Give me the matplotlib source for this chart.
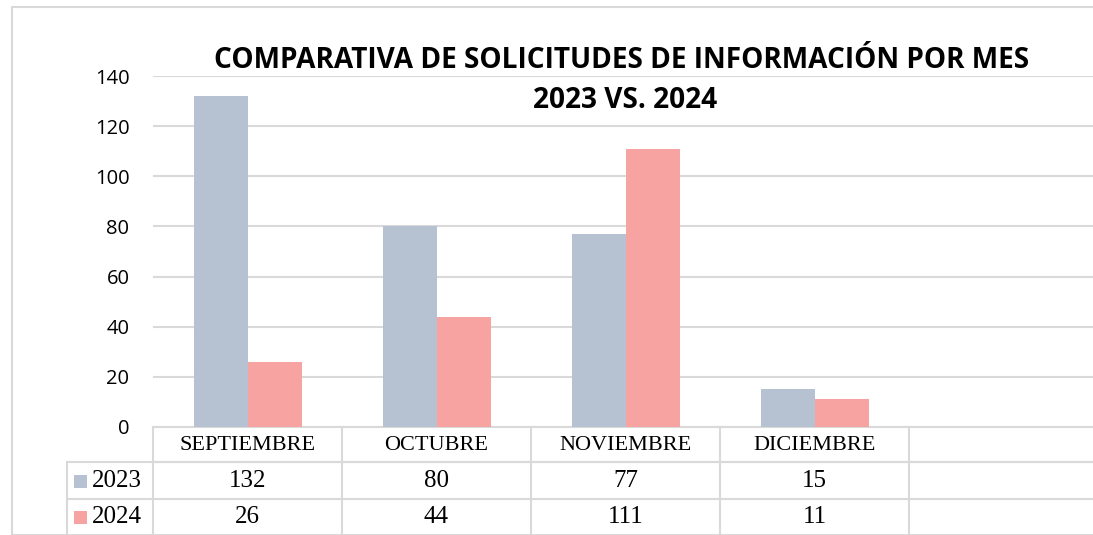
import numpy as np
import matplotlib.pyplot as plt
from matplotlib.patches import Rectangle

meses = ["SEPTIEMBRE", "OCTUBRE", "NOVIEMBRE", "DICIEMBRE"]
serie_2023 = [132, 80, 77, 15]
serie_2024 = [26, 44, 111, 11]
series = ["2023", "2024"]
colores = ["#B6C2D1", "#F7A3A2"]
gris = "#D9D9D9"

W, H = 1093, 535
fig = plt.figure(figsize=(W / 100, H / 100), dpi=100)

# marco exterior
fig.patches.append(Rectangle((12 / W, 0), 1.2, (H - 7) / H, transform=fig.transFigure,
                             fill=False, edgecolor=gris, linewidth=1.5))

# area de grafico: 5 categorias (la ultima vacia), cada una de 189 px
ancho_cat = 189
x0 = 153
ax = fig.add_axes([x0 / W, (H - 427) / H, 5 * ancho_cat / W, (427 - 76) / H])
x = np.arange(len(meses))
bw = 54 / ancho_cat
ax.bar(x - bw / 2, serie_2023, bw, color=colores[0], zorder=3)
ax.bar(x + bw / 2, serie_2024, bw, color=colores[1], zorder=3)
ax.set_xlim(-0.5, 4.5)
ax.set_ylim(0, 140)
ax.set_yticks(range(0, 141, 20))
ax.yaxis.grid(True, color=gris, linewidth=1.5)
ax.set_axisbelow(True)
ax.set_xticks([])
for s in ["top", "right", "left"]:
    ax.spines[s].set_visible(False)
ax.spines["bottom"].set_color(gris)
ax.spines["bottom"].set_linewidth(1.5)
ax.tick_params(axis="y", length=0, pad=17, labelsize=14.5)
for t in ax.get_yticklabels():
    t.set_fontfamily("Open Sans")

fig.text(622 / W, 1 - 61 / H, "COMPARATIVA DE SOLICITUDES DE INFORMACIÓN POR MES",
         ha="center", va="center", fontsize=20.2, fontweight="bold", family="Open Sans")
fig.text(625 / W, 1 - 101 / H, "2023 VS. 2024",
         ha="center", va="center", fontsize=20.2, fontweight="bold", family="Open Sans")

# tabla de datos
tx = fig.add_axes([x0 / W, 0, 5 * ancho_cat / W, (H - 427) / H])
tx.set_xlim(-0.5, 4.5)
tx.set_ylim(H - 427, 0)
tx.axis("off")
izq = -0.5 - (x0 - 67) / ancho_cat
kw = dict(color=gris, linewidth=1.5, clip_on=False)
tx.plot([-0.5, 4.5], [35, 35], **kw)
tx.plot([izq, 4.5], [35, 35], **kw)
tx.plot([izq, 4.5], [72, 72], **kw)
tx.plot([izq, izq], [35, 110], **kw)
for i in range(6):
    tx.plot([i - 0.5, i - 0.5], [0, 110], **kw)

fuente = dict(ha="center", va="center", family="Liberation Serif")
for i, m in enumerate(meses):
    tx.text(i, 18, m, fontsize=16, **fuente)
    tx.text(i, 54, str(serie_2023[i]), fontsize=18, **fuente)
    tx.text(i, 90, str(serie_2024[i]), fontsize=18, **fuente)

for j, (nombre, c) in enumerate(zip(series, colores)):
    yc = 54 + 36 * j
    tx.add_patch(Rectangle((izq + 7 / ancho_cat, yc - 6.5), 13 / ancho_cat, 13,
                           facecolor=c, edgecolor="none", clip_on=False))
    tx.text(izq + 25 / ancho_cat, yc, nombre, ha="left", va="center",
            fontsize=18, family="Liberation Serif")

fig.savefig("out.png", dpi=100)
